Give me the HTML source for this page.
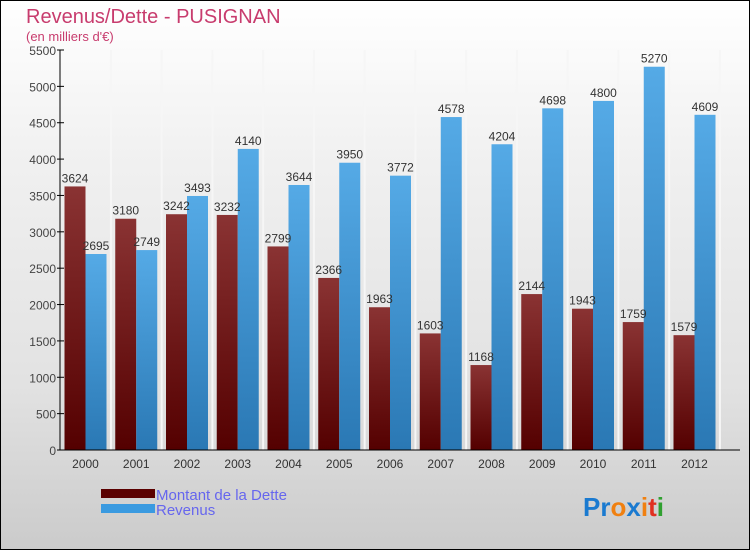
<!DOCTYPE html>
<html><head><meta charset="utf-8"><style>
body{margin:0}
#c{position:relative;width:748px;height:548px;border:1px solid #000;background:linear-gradient(#fff,#f0f0f0 30%,#e2e2e2 70%,#cbcbcb);font-family:"Liberation Sans",sans-serif;overflow:hidden}
</style></head><body>
<div id="c">
<svg id="s" width="748" height="548">
<defs>
<linearGradient id="gd" x1="0" y1="0" x2="0" y2="1"><stop offset="0" stop-color="#8a3333"/><stop offset="1" stop-color="#540000"/></linearGradient>
<linearGradient id="gr" x1="0" y1="0" x2="0" y2="1"><stop offset="0" stop-color="#55aae6"/><stop offset="1" stop-color="#2a78b4"/></linearGradient>
</defs>
<text x="25" y="22" font-size="20" fill="#c83c6e">Revenus/Dette - PUSIGNAN</text>
<text x="25" y="40" font-size="13" fill="#c83c6e">(en milliers d'€)</text>
<g id="g"></g>
<rect x="100" y="488" width="54" height="9" fill="#5a0000"/>
<text x="155" y="499" font-size="15" fill="#6666ee">Montant de la Dette</text>
<rect x="100" y="503" width="54" height="9" fill="#3a9ae0"/>
<text x="155" y="514" font-size="15" fill="#6666ee">Revenus</text>
<text x="582" y="515" font-size="26" font-weight="bold"><tspan fill="#1a7ad0">Pr</tspan><tspan fill="#f08010">o</tspan><tspan fill="#1a7ad0">x</tspan><tspan fill="#f08010">i</tspan><tspan fill="#e03020">t</tspan><tspan fill="#30a030">i</tspan></text>
</svg>
</div>
<script>
const years=["2000","2001","2002","2003","2004","2005","2006","2007","2008","2009","2010","2011","2012"];
const dette=[3624,3180,3242,3232,2799,2366,1963,1603,1168,2144,1943,1759,1579];
const revenus=[2695,2749,3493,4140,3644,3950,3772,4578,4204,4698,4800,5270,4609];
const ticks=[0,500,1000,1500,2000,2500,3000,3500,4000,4500,5000,5500];
const NS="http://www.w3.org/2000/svg";
const g=document.getElementById('g');
const y=v=>449-v*400/5500;
const x=i=>84.5+i*50.75;
function mk(t,a,p){const e=document.createElementNS(NS,t);for(const k in a)e.setAttribute(k,a[k]);(p||g).appendChild(e);return e;}
years.forEach((yr,i)=>{
 const sep=mk('line',{x1:x(i)+25.4,x2:x(i)+25.4,y1:y(5500),y2:y(0),stroke:'#f6f6f6','stroke-width':2});
 
 
});
ticks.forEach(t=>{
 const k=mk('line',{x1:56,x2:63,y1:y(t),y2:y(t),stroke:'#000'});
 
 
 const tx=mk('text',{x:55,y:y(t)+5,'font-size':12,fill:'#444','text-anchor':'end'});
 tx.textContent=t;
 
 
});
years.forEach((yr,i)=>{
 const c=x(i);
 const b1=mk('rect',{x:c-21,y:y(dette[i]),width:21,height:y(0)-y(dette[i]),fill:'url(#gd)'});
 
 
 const b2=mk('rect',{x:c,y:y(revenus[i]),width:21,height:y(0)-y(revenus[i]),fill:'url(#gr)'});
 
 
 const t1=mk('text',{x:c-10.5,y:y(dette[i])-4,'font-size':12,fill:'#333','text-anchor':'middle'});
 t1.textContent=dette[i];
 
 
 const t2=mk('text',{x:c+10.5,y:y(revenus[i])-4,'font-size':12,fill:'#333','text-anchor':'middle'});
 t2.textContent=revenus[i];
 
 
 const xl=mk('text',{x:c,y:467,'font-size':12,fill:'#333','text-anchor':'middle'});
 xl.textContent=yr;
 
 
});
const ax=mk('line',{x1:59,x2:59,y1:y(5500),y2:y(0),stroke:'#000'});


const bx=mk('line',{x1:59,x2:739,y1:y(0),y2:y(0),stroke:'#000'});


</script>
</body></html>
